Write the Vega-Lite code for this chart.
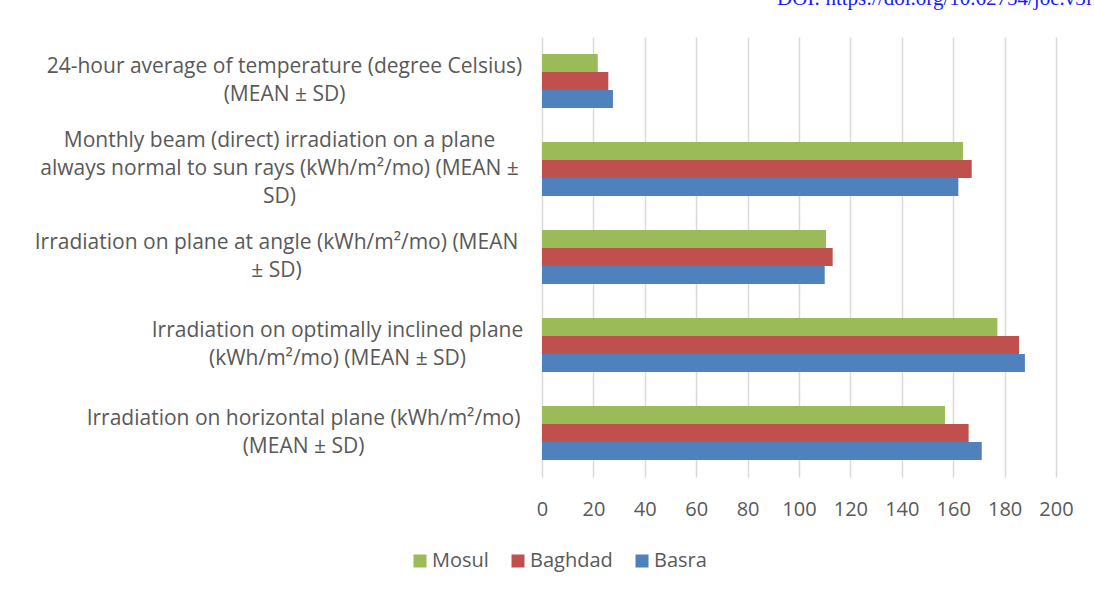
{
  "$schema": "https://vega.github.io/schema/vega-lite/v6.json",
  "width": 514,
  "height": 440,
  "autosize": {"type": "none"},
  "padding": {"left": 542, "top": 37, "right": 38, "bottom": 118},
  "background": "white",
  "title": {
    "text": "DOI: https://doi.org/10.62754/joe.v3i1",
    "anchor": "start",
    "frame": "group",
    "orient": "top",
    "offset": 28,
    "dx": 235,
    "font": "Liberation Serif",
    "fontSize": 21,
    "fontWeight": "normal",
    "color": "#1a1aff"
  },
  "config": {
    "view": {"stroke": null},
    "font": "Open Sans",
    "axis": {"labelColor": "#595959", "labelFont": "Open Sans"},
    "legend": {"labelColor": "#595959", "labelFont": "Open Sans"}
  },
  "data": {
    "values": [
      {"measure": "24-hour average of temperature (degree Celsius) (MEAN ± SD)", "city": "Mosul", "value": 21.7},
      {"measure": "24-hour average of temperature (degree Celsius) (MEAN ± SD)", "city": "Baghdad", "value": 25.8},
      {"measure": "24-hour average of temperature (degree Celsius) (MEAN ± SD)", "city": "Basra", "value": 27.6},
      {"measure": "Monthly beam (direct) irradiation on a plane always normal to sun rays (kWh/m²/mo) (MEAN ± SD)", "city": "Mosul", "value": 163.8},
      {"measure": "Monthly beam (direct) irradiation on a plane always normal to sun rays (kWh/m²/mo) (MEAN ± SD)", "city": "Baghdad", "value": 167.2},
      {"measure": "Monthly beam (direct) irradiation on a plane always normal to sun rays (kWh/m²/mo) (MEAN ± SD)", "city": "Basra", "value": 162.0},
      {"measure": "Irradiation on plane at angle (kWh/m²/mo) (MEAN ± SD)", "city": "Mosul", "value": 110.5},
      {"measure": "Irradiation on plane at angle (kWh/m²/mo) (MEAN ± SD)", "city": "Baghdad", "value": 113.1},
      {"measure": "Irradiation on plane at angle (kWh/m²/mo) (MEAN ± SD)", "city": "Basra", "value": 110.0},
      {"measure": "Irradiation on optimally inclined plane (kWh/m²/mo) (MEAN ± SD)", "city": "Mosul", "value": 177.2},
      {"measure": "Irradiation on optimally inclined plane (kWh/m²/mo) (MEAN ± SD)", "city": "Baghdad", "value": 185.6},
      {"measure": "Irradiation on optimally inclined plane (kWh/m²/mo) (MEAN ± SD)", "city": "Basra", "value": 187.9},
      {"measure": "Irradiation on horizontal plane (kWh/m²/mo) (MEAN ± SD)", "city": "Mosul", "value": 156.8},
      {"measure": "Irradiation on horizontal plane (kWh/m²/mo) (MEAN ± SD)", "city": "Baghdad", "value": 166.0},
      {"measure": "Irradiation on horizontal plane (kWh/m²/mo) (MEAN ± SD)", "city": "Basra", "value": 171.1}
    ]
  },
  "mark": {"type": "bar"},
  "encoding": {
    "y": {
      "field": "measure",
      "type": "nominal",
      "sort": null,
      "scale": {"paddingInner": 0.386, "paddingOuter": 0.193},
      "axis": {
        "title": null,
        "domain": false,
        "ticks": false,
        "labelAlign": "center",
        "labelBaseline": "middle",
        "labelFontSize": 21,
        "labelLineHeight": 28,
        "labelLimit": 0,
        "labelPadding": {
          "condition": [
            {"test": "indexof(datum.value,'24-hour')==0", "value": 258},
            {"test": "indexof(datum.value,'Monthly')==0", "value": 263},
            {"test": "indexof(datum.value,'Irradiation on plane')==0", "value": 266},
            {"test": "indexof(datum.value,'Irradiation on optimally')==0", "value": 205}
          ],
          "value": 239
        },
        "labelOffset": {
          "condition": {"test": "indexof(datum.value,'Monthly')==0", "value": -28},
          "value": -14
        },
        "labelExpr": "indexof(datum.label,'24-hour')==0 ? ['24-hour average of temperature (degree Celsius)','(MEAN ± SD)'] : indexof(datum.label,'Monthly')==0 ? ['Monthly beam (direct) irradiation on a plane','always normal to sun rays (kWh/m²/mo) (MEAN ±','SD)'] : indexof(datum.label,'Irradiation on plane')==0 ? ['Irradiation on plane at angle (kWh/m²/mo) (MEAN','± SD)'] : indexof(datum.label,'Irradiation on optimally')==0 ? ['Irradiation on optimally inclined plane','(kWh/m²/mo) (MEAN ± SD)'] : ['Irradiation on horizontal plane (kWh/m²/mo)','(MEAN ± SD)']"
      }
    },
    "yOffset": {
      "field": "city",
      "type": "nominal",
      "sort": ["Mosul", "Baghdad", "Basra"],
      "scale": {"paddingInner": 0, "paddingOuter": 0}
    },
    "x": {
      "field": "value",
      "type": "quantitative",
      "scale": {"domain": [0, 200], "nice": false},
      "axis": {
        "title": null,
        "values": [0, 20, 40, 60, 80, 100, 120, 140, 160, 180, 200],
        "domain": false,
        "ticks": false,
        "labelFlush": false,
        "labelOverlap": false,
        "labelPadding": 22,
        "labelFontSize": 20,
        "grid": true,
        "gridColor": "#d9d9d9",
        "gridWidth": 1.5
      }
    },
    "color": {
      "field": "city",
      "type": "nominal",
      "sort": ["Mosul", "Baghdad", "Basra"],
      "scale": {"domain": ["Mosul", "Baghdad", "Basra"], "range": ["#9BBB59", "#C0504D", "#4F81BD"]},
      "legend": {
        "title": null,
        "orient": "none",
        "direction": "horizontal",
        "legendX": -132,
        "legendY": 514,
        "symbolType": "square",
        "symbolSize": 169,
        "symbolStrokeWidth": 0,
        "symbolOpacity": 1,
        "labelFontSize": 20,
        "columnPadding": 19,
        "labelOffset": 2
      }
    }
  }
}
